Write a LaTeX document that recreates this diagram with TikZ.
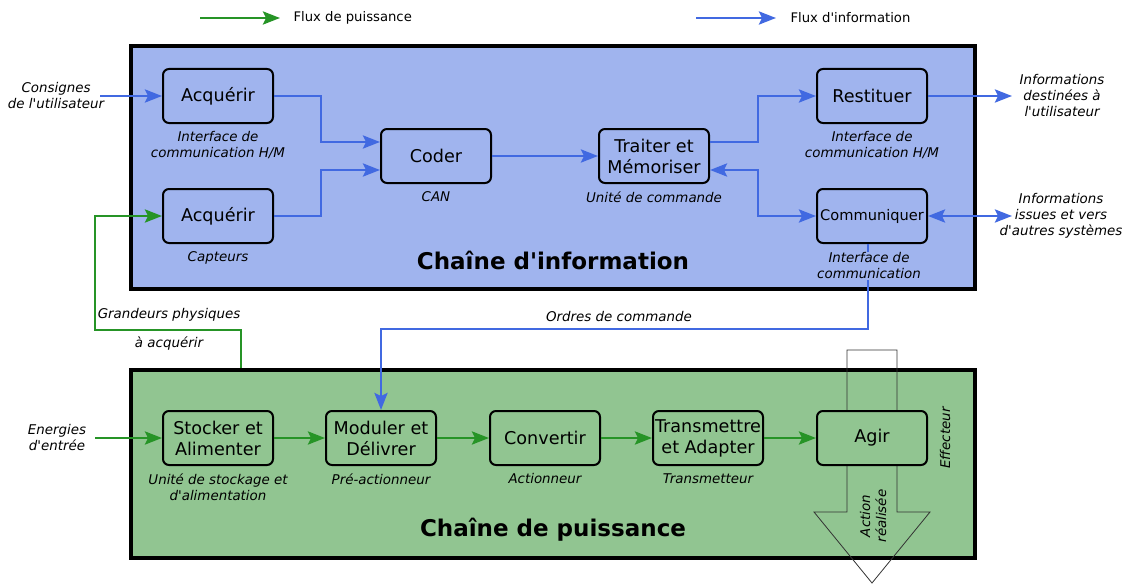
\documentclass[tikz,border=0pt]{standalone}
\usepackage{fontspec}
\setmainfont{DejaVu Sans}
\usepackage{tikz}
\usetikzlibrary{arrows.meta,positioning,calc}
\definecolor{infofill}{RGB}{160,180,238}
\definecolor{powerfill}{RGB}{145,197,145}
\definecolor{infoline}{RGB}{65,105,225}
\definecolor{powerline}{RGB}{38,148,38}
\newcommand{\ap}{\textquotesingle}
\tikzset{%
  info flow/.style={%
    draw=infoline,
    line width=2.8pt,
    >={Stealth[length=17pt,width=13pt,inset=3pt]},
    ->
  }
}
\tikzset{%
  power flow/.style={%
    draw=powerline,
    line width=2.8pt,
    >={Stealth[length=17pt,width=13pt,inset=3pt]},
    ->
  }
}
\tikzset{%
  function box/.style={%
    draw, line width=2pt, rounded corners=6pt,
    minimum width=110pt, minimum height=54pt, inner sep=0pt,
    align=center, font=\fontsize{17.6}{21}\selectfont
  },
  info box/.style={function box, fill=infofill},
  power box/.style={function box, fill=powerfill},
  sub label/.style={align=center, inner sep=1pt, font=\fontsize{13.4}{16}\selectfont\itshape},
  chain frame/.style={draw, line width=4pt, minimum width=844pt, inner sep=0pt},
  chain title/.style={font=\fontsize{23}{27}\selectfont\bfseries},
  legend text/.style={anchor=west, font=\fontsize{13.2}{16}\selectfont}
}

\begin{document}
\begin{tikzpicture}[x=1pt,y=-1pt]
  \useasboundingbox (0,0) rectangle (1128,586);
  % legend
  \coordinate (lp1) at (200,18);
  \coordinate (lp2) at (280,18);
  \coordinate (li1) at (696,18);
  \coordinate (li2) at (776,18);
  \draw [power flow] (lp1) -- (lp2);
  \draw [info flow] (li1) -- (li2);
  \node [legend text] (lpt) at (290,18) {Flux de puissance};
  \node [legend text] (lit) at (787,18) {Flux d\ap information};
  % frames
  \node [chain frame, fill=infofill, minimum height=243pt] (ichain) at (553,167.5) {};
  \node [chain frame, fill=powerfill, minimum height=188pt] (pchain) at (553,464) {};
  \draw [line width=0.8pt, draw=black!80] (847,350) -- (897,350) -- (897,512) -- (930,512)
    -- (872,583) -- (814,512) -- (847,512) -- cycle;
  % information chain
  \node [info box] (acq1) at (218,96) {Acquérir};
  \node [info box] (acq2) at (218,216) {Acquérir};
  \node [info box] (coder) at (436,156) {Coder};
  \node [info box] (traiter) at (654,156) {Traiter et\\Mémoriser};
  \node [info box] (restit) at (872,96) {Restituer};
  \node [info box, font=\fontsize{14.6}{18}\selectfont] (comm) at (872,216) {Communiquer};
  % power chain
  \node [power box] (stock) at (218,438) {Stocker et\\Alimenter};
  \node [power box] (mod) at (381,438) {Moduler et\\Délivrer};
  \node [power box] (conv) at (545,438) {Convertir};
  \node [power box] (trans) at (708,438) {Transmettre\\et Adapter};
  % arrow shaft goes behind this one
  \node [power box] (agir) at (872,438) {Agir};
  % connectors
  \coordinate (cons) at (100,96);
  \coordinate (rest) at (1012,96);
  \coordinate (other) at (1012,216);
  \coordinate (ener) at (95,438);
  \coordinate (gp) at (241,368);
  \draw [info flow] (cons) -- (acq1.west);
  \draw [info flow] (acq1.east) -- ++(47,0) |- ([yshift=14pt]coder.west);
  \draw [info flow] (acq2.east) -- ++(47,0) |- ([yshift=-14pt]coder.west);
  \draw [info flow] (coder.east) -- (traiter.west);
  \draw [info flow] ([yshift=14pt]traiter.east) -- ++(48,0) |- (restit.west);
  \draw [info flow, <->] ([yshift=-14pt]traiter.east) -- ++(48,0) |- (comm.west);
  \draw [info flow] (restit.east) -- (rest);
  \draw [info flow, <->] (comm.east) -- (other);
  \draw [info flow] ([xshift=-4pt]comm.south) -- ++(0,85) -| (mod.north);
  \draw [power flow] (gp) |- ++(-146,-38) |- (acq2.west);
  \draw [power flow] (ener) -- (stock.west);
  \draw [power flow] (stock.east) -- (mod.west);
  \draw [power flow] (mod.east) -- (conv.west);
  \draw [power flow] (conv.east) -- (trans.west);
  \draw [power flow] (trans.east) -- (agir.west);
  % labels
  \node [sub label] (consl) at (56,96) {Consignes\\de l\ap utilisateur};
  \node [sub label] (acq1l) at (218,145) {Interface de\\communication H/M};
  \node [sub label] (acq2l) at (218,258) {Capteurs};
  \node [sub label] (coderl) at (436,197) {CAN};
  \node [sub label] (traiterl) at (654,197) {Unité de commande};
  \node [sub label] (restitl) at (872,145) {Interface de\\communication H/M};
  \node [sub label, fill=infofill] (comml) at (869,266) {Interface de\\communication};
  \node [sub label] (restl) at (1062,96) {Informations\\destinées à\\l\ap utilisateur};
  \node [sub label] (otherl) at (1061,216) {Informations\\issues et vers\\d\ap autres systèmes};
  \node [sub label] (ordres) at (619,317) {Ordres de commande};
  \node [sub label] (gpl1) at (169,315) {Grandeurs physiques};
  \node [sub label] (gpl2) at (169,344) {à acquérir};
  \node [sub label] (enerl) at (57,438) {Energies\\d\ap entrée};
  \node [sub label] (stockl) at (218,487) {Unité de stockage et\\d\ap alimentation};
  \node [sub label] (modl) at (381,479) {Pré-actionneur};
  \node [sub label] (convl) at (545,479) {Actionneur};
  \node [sub label] (transl) at (708,479) {Transmetteur};
  \node [sub label, rotate=90] (effl) at (945,438) {Effecteur};
  \node [sub label, rotate=90] (actl) at (873,516) {Action\\réalisée};
  \node [chain title] (ititle) at (553,260) {Chaîne d\ap information};
  \node [chain title] (ptitle) at (553,530) {Chaîne de puissance};
\end{tikzpicture}
\end{document}
